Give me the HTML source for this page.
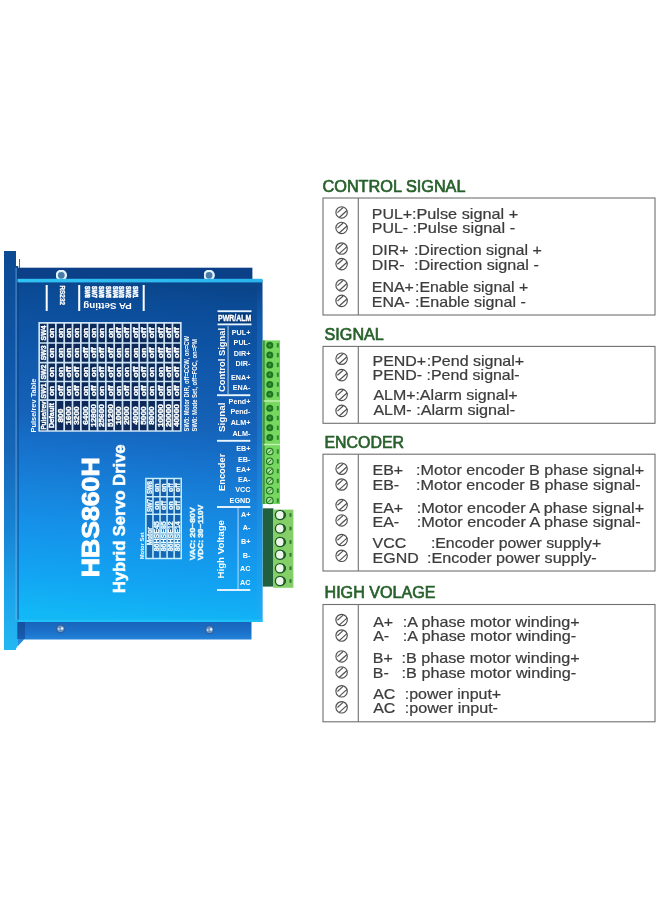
<!DOCTYPE html>
<html><head><meta charset="utf-8"><title>HBS860H</title>
<style>
html,body{margin:0;padding:0;background:#fff;}
body{width:660px;height:900px;overflow:hidden;position:relative;font-family:"Liberation Sans",sans-serif;}
svg{position:absolute;left:0;top:0;display:block;}
text{font-family:"Liberation Sans",sans-serif;}
.h{font-size:16px;fill:#27602a;stroke:#27602a;stroke-width:0.65px;}
.t{font-size:14.5px;fill:#3c3c3c;stroke:#3c3c3c;stroke-width:0.22px;}
.w{fill:#fff;}
.b{font-weight:bold;}
</style></head><body>
<svg width="660" height="900" viewBox="0 0 660 900">
<defs>
<linearGradient id="gFace" x1="0.53" y1="0" x2="0.47" y2="1">
<stop offset="0" stop-color="#0a4489"/>
<stop offset="0.06" stop-color="#0b4b96"/>
<stop offset="0.23" stop-color="#0f57aa"/>
<stop offset="0.41" stop-color="#1562b8"/>
<stop offset="0.52" stop-color="#1672cc"/>
<stop offset="0.64" stop-color="#1784dc"/>
<stop offset="0.73" stop-color="#1590e8"/>
<stop offset="0.88" stop-color="#12a4f2"/>
<stop offset="1" stop-color="#12b8f6"/>
</linearGradient>
<linearGradient id="gEdge" x1="0" y1="0" x2="0" y2="1">
<stop offset="0" stop-color="#1a6cc4" stop-opacity="0"/>
<stop offset="0.15" stop-color="#1a6cc4" stop-opacity="0.5"/>
<stop offset="1" stop-color="#25aaf4" stop-opacity="0.6"/>
</linearGradient>
<linearGradient id="gTop" x1="0" y1="0" x2="1" y2="0">
<stop offset="0" stop-color="#30c2f2"/>
<stop offset="1" stop-color="#2ab4ee"/>
</linearGradient>
<linearGradient id="gFlange" x1="0" y1="0" x2="0" y2="1">
<stop offset="0" stop-color="#0c4a92"/>
<stop offset="0.3" stop-color="#1058aa"/>
<stop offset="0.5" stop-color="#1666b8"/>
<stop offset="0.7" stop-color="#1884d4"/>
<stop offset="0.85" stop-color="#1ca2ea"/>
<stop offset="1" stop-color="#22b8f2"/>
</linearGradient>
<linearGradient id="gBot" x1="0" y1="0" x2="0" y2="1">
<stop offset="0" stop-color="#1862ba"/>
<stop offset="0.5" stop-color="#1c74cc"/>
<stop offset="0.8" stop-color="#2688dc"/>
<stop offset="1" stop-color="#2e98e6"/>
</linearGradient>
<filter id="soft" x="-5%" y="-5%" width="110%" height="110%"><feGaussianBlur stdDeviation="0.45"/></filter>
<filter id="soft3" x="-2%" y="-2%" width="104%" height="104%"><feGaussianBlur stdDeviation="0.28"/></filter>
<filter id="soft2" x="-5%" y="-5%" width="110%" height="110%"><feGaussianBlur stdDeviation="0.3"/></filter>
</defs>

<g id="device">
<rect x="4" y="251" width="12" height="399" fill="url(#gFlange)"/>
<path d="M15.3 266H18.2V645L15.3 650Z" fill="url(#gFlange)"/>
<rect x="15.3" y="268" width="2" height="352" fill="#7ab8ec" opacity="0.4"/>
<rect x="17" y="267.7" width="235.4" height="14" fill="#0b4088"/>
<rect x="19" y="259" width="1" height="9" fill="#3a6aa0"/>
<path d="M16 621H251.5V639.5H24L18 646V621Z" fill="url(#gBot)"/>
<rect x="17" y="621" width="8" height="18" fill="#143f8c" opacity="0.55"/>
<circle cx="61.3" cy="275.3" r="4.6" fill="#4a7aa8" stroke="#e2f2fb" stroke-width="2.4" filter="url(#soft2)"/>
<circle cx="209.1" cy="275.3" r="4.6" fill="#4a7aa8" stroke="#e2f2fb" stroke-width="2.4" filter="url(#soft2)"/>
<rect x="17" y="280" width="245.5" height="342" fill="url(#gFace)"/>
<rect x="17.5" y="278.8" width="245" height="3.6" fill="url(#gTop)"/>
<rect x="17.4" y="282.4" width="1.4" height="339" fill="#08387c" opacity="0.55"/>
<rect x="257" y="281.4" width="5.5" height="340.6" fill="url(#gEdge)"/>
<rect x="17" y="619.5" width="245.5" height="2.5" fill="#22c4f8" opacity="0.7"/>
<circle cx="60.5" cy="628.8" r="4" fill="#6a92c0" stroke="#2a5ea4" stroke-width="1.2"/>
<circle cx="62.1" cy="628.5" r="1.3" fill="#e8f2fa"/>
<circle cx="58.7" cy="629.0" r="1" fill="#c8dcee"/>
<circle cx="209.5" cy="629.7" r="4" fill="#6a92c0" stroke="#2a5ea4" stroke-width="1.2"/>
<circle cx="211.1" cy="629.4000000000001" r="1.3" fill="#e8f2fa"/>
<circle cx="207.7" cy="629.9000000000001" r="1" fill="#c8dcee"/>
<g filter="url(#soft2)">
<rect x="262.6" y="340.4" width="17.4" height="163.6" fill="#76d85e"/>
<rect x="262.6" y="340.4" width="2.2" height="163.6" fill="#3f9a3c"/>
<circle cx="269.8" cy="345.3" r="3.5" fill="#1f7424"/>
<circle cx="269.8" cy="345.3" r="1.4" fill="#3f9a3a"/>
<rect x="276.8" y="343.1" width="2" height="4.4" fill="#2f8a30"/>
<circle cx="269.8" cy="355.1" r="3.5" fill="#1f7424"/>
<circle cx="269.8" cy="355.1" r="1.4" fill="#3f9a3a"/>
<rect x="276.8" y="352.9" width="2" height="4.4" fill="#2f8a30"/>
<circle cx="269.8" cy="364.9" r="3.5" fill="#1f7424"/>
<circle cx="269.8" cy="364.9" r="1.4" fill="#3f9a3a"/>
<rect x="276.8" y="362.7" width="2" height="4.4" fill="#2f8a30"/>
<circle cx="269.8" cy="374.7" r="3.5" fill="#1f7424"/>
<circle cx="269.8" cy="374.7" r="1.4" fill="#3f9a3a"/>
<rect x="276.8" y="372.5" width="2" height="4.4" fill="#2f8a30"/>
<circle cx="269.8" cy="384.5" r="3.5" fill="#1f7424"/>
<circle cx="269.8" cy="384.5" r="1.4" fill="#3f9a3a"/>
<rect x="276.8" y="382.3" width="2" height="4.4" fill="#2f8a30"/>
<circle cx="269.8" cy="394.3" r="3.5" fill="#1f7424"/>
<circle cx="269.8" cy="394.3" r="1.4" fill="#3f9a3a"/>
<rect x="276.8" y="392.1" width="2" height="4.4" fill="#2f8a30"/>
<circle cx="269.8" cy="408.2" r="3.5" fill="#1f7424"/>
<circle cx="269.8" cy="408.2" r="1.4" fill="#3f9a3a"/>
<rect x="276.8" y="406.0" width="2" height="4.4" fill="#2f8a30"/>
<circle cx="269.8" cy="418.0" r="3.5" fill="#1f7424"/>
<circle cx="269.8" cy="418.0" r="1.4" fill="#3f9a3a"/>
<rect x="276.8" y="415.8" width="2" height="4.4" fill="#2f8a30"/>
<circle cx="269.8" cy="427.8" r="3.5" fill="#1f7424"/>
<circle cx="269.8" cy="427.8" r="1.4" fill="#3f9a3a"/>
<rect x="276.8" y="425.6" width="2" height="4.4" fill="#2f8a30"/>
<circle cx="269.8" cy="437.6" r="3.5" fill="#1f7424"/>
<circle cx="269.8" cy="437.6" r="1.4" fill="#3f9a3a"/>
<rect x="276.8" y="435.4" width="2" height="4.4" fill="#2f8a30"/>
<circle cx="269.8" cy="451.5" r="3.3" fill="#a9e296" stroke="#1f7424" stroke-width="1.1"/>
<line x1="268" y1="453.3" x2="271.6" y2="449.7" stroke="#1f7424" stroke-width="1"/>
<rect x="276.8" y="449.3" width="2" height="4.4" fill="#2f8a30"/>
<circle cx="269.8" cy="461.3" r="3.3" fill="#a9e296" stroke="#1f7424" stroke-width="1.1"/>
<line x1="268" y1="463.1" x2="271.6" y2="459.5" stroke="#1f7424" stroke-width="1"/>
<rect x="276.8" y="459.1" width="2" height="4.4" fill="#2f8a30"/>
<circle cx="269.8" cy="471.1" r="3.3" fill="#a9e296" stroke="#1f7424" stroke-width="1.1"/>
<line x1="268" y1="472.9" x2="271.6" y2="469.3" stroke="#1f7424" stroke-width="1"/>
<rect x="276.8" y="468.9" width="2" height="4.4" fill="#2f8a30"/>
<circle cx="269.8" cy="480.9" r="3.3" fill="#a9e296" stroke="#1f7424" stroke-width="1.1"/>
<line x1="268" y1="482.7" x2="271.6" y2="479.1" stroke="#1f7424" stroke-width="1"/>
<rect x="276.8" y="478.7" width="2" height="4.4" fill="#2f8a30"/>
<circle cx="269.8" cy="490.7" r="3.3" fill="#a9e296" stroke="#1f7424" stroke-width="1.1"/>
<line x1="268" y1="492.5" x2="271.6" y2="488.9" stroke="#1f7424" stroke-width="1"/>
<rect x="276.8" y="488.5" width="2" height="4.4" fill="#2f8a30"/>
<circle cx="269.8" cy="500.5" r="3.3" fill="#a9e296" stroke="#1f7424" stroke-width="1.1"/>
<line x1="268" y1="502.3" x2="271.6" y2="498.7" stroke="#1f7424" stroke-width="1"/>
<rect x="276.8" y="498.3" width="2" height="4.4" fill="#2f8a30"/>
<rect x="263.7" y="400.3" width="16.3" height="1.4" fill="#c4f2b4"/>
<rect x="263.7" y="443.8" width="16.3" height="1.4" fill="#c4f2b4"/>
<rect x="262.8" y="508.3" width="10.6" height="78.3" fill="#22603c"/>
<rect x="273.2" y="509.6" width="20.2" height="78.2" fill="#84cf68"/>
<circle cx="280" cy="515" r="4.6" fill="#eef6ea" stroke="#1d5a2a" stroke-width="1.3"/>
<path d="M281.5 510.4A4.6 4.6 0 0 1 281.5 519.6A6 6 0 0 0 281.5 510.4Z" fill="#1d5a2a"/>
<rect x="289.5" y="513.2" width="2" height="3.6" fill="#2d7a30"/>
<circle cx="280" cy="528.5" r="4.6" fill="#eef6ea" stroke="#1d5a2a" stroke-width="1.3"/>
<path d="M281.5 523.9A4.6 4.6 0 0 1 281.5 533.1A6 6 0 0 0 281.5 523.9Z" fill="#1d5a2a"/>
<rect x="289.5" y="526.7" width="2" height="3.6" fill="#2d7a30"/>
<circle cx="280" cy="542" r="4.6" fill="#eef6ea" stroke="#1d5a2a" stroke-width="1.3"/>
<path d="M281.5 537.4A4.6 4.6 0 0 1 281.5 546.6A6 6 0 0 0 281.5 537.4Z" fill="#1d5a2a"/>
<rect x="289.5" y="540.2" width="2" height="3.6" fill="#2d7a30"/>
<circle cx="280" cy="554.8" r="4.6" fill="#eef6ea" stroke="#1d5a2a" stroke-width="1.3"/>
<path d="M281.5 550.1999999999999A4.6 4.6 0 0 1 281.5 559.4A6 6 0 0 0 281.5 550.1999999999999Z" fill="#1d5a2a"/>
<rect x="289.5" y="553.0" width="2" height="3.6" fill="#2d7a30"/>
<circle cx="280" cy="568.2" r="4.6" fill="#eef6ea" stroke="#1d5a2a" stroke-width="1.3"/>
<path d="M281.5 563.6A4.6 4.6 0 0 1 281.5 572.8000000000001A6 6 0 0 0 281.5 563.6Z" fill="#1d5a2a"/>
<rect x="289.5" y="566.4000000000001" width="2" height="3.6" fill="#2d7a30"/>
<circle cx="280" cy="581" r="4.6" fill="#eef6ea" stroke="#1d5a2a" stroke-width="1.3"/>
<path d="M281.5 576.4A4.6 4.6 0 0 1 281.5 585.6A6 6 0 0 0 281.5 576.4Z" fill="#1d5a2a"/>
<rect x="289.5" y="579.2" width="2" height="3.6" fill="#2d7a30"/>
</g>
</g>
<g id="facetext" filter="url(#soft)">
<text class="w b" transform="translate(99,577.3) rotate(-90)" font-size="24.2" textLength="120" lengthAdjust="spacingAndGlyphs" stroke="#fff" stroke-width="0.9">HBS860H</text>
<text class="w b" transform="translate(125,593) rotate(-90)" font-size="16.5" textLength="148.5" lengthAdjust="spacingAndGlyphs" stroke="#f2fdff" stroke-width="0.55" fill="#f2fdff">Hybrid Servo Drive</text>
<rect x="217.5" y="313" width="34" height="10" fill="#0a2f66" opacity="0.6"/>
<rect x="217.5" y="310.3" width="34" height="1.8" fill="#eaf6ff"/>
<rect x="217.5" y="323.5" width="34" height="1.8" fill="#eaf6ff"/>
<text class="w b" x="218" y="320.7" font-size="8.2" textLength="33.2" lengthAdjust="spacingAndGlyphs" stroke="#fff" stroke-width="0.35">PWR/ALM</text>
<text class="w b" x="250.4" y="335.1" font-size="7.2" text-anchor="end">PUL+</text>
<text class="w b" x="250.4" y="345.40000000000003" font-size="7.2" text-anchor="end">PUL-</text>
<text class="w b" x="250.4" y="355.6" font-size="7.2" text-anchor="end">DIR+</text>
<text class="w b" x="250.4" y="365.90000000000003" font-size="7.2" text-anchor="end">DIR-</text>
<text class="w b" x="250.4" y="379.6" font-size="7.2" text-anchor="end">ENA+</text>
<text class="w b" x="250.4" y="389.90000000000003" font-size="7.2" text-anchor="end">ENA-</text>
<text class="w b" x="250.4" y="404.1" font-size="7.2" text-anchor="end">Pend+</text>
<text class="w b" x="250.4" y="414.3" font-size="7.2" text-anchor="end">Pend-</text>
<text class="w b" x="250.4" y="424.6" font-size="7.2" text-anchor="end">ALM+</text>
<text class="w b" x="250.4" y="435.6" font-size="7.2" text-anchor="end">ALM-</text>
<text class="w b" x="250.4" y="451.40000000000003" font-size="7.2" text-anchor="end">EB+</text>
<text class="w b" x="250.4" y="461.8" font-size="7.2" text-anchor="end">EB-</text>
<text class="w b" x="250.4" y="472.0" font-size="7.2" text-anchor="end">EA+</text>
<text class="w b" x="250.4" y="482.20000000000005" font-size="7.2" text-anchor="end">EA-</text>
<text class="w b" x="250.4" y="492.1" font-size="7.2" text-anchor="end">VCC</text>
<text class="w b" x="250.4" y="502.8" font-size="7.2" text-anchor="end">EGND</text>
<text class="w b" x="250.4" y="517.1" font-size="7.2" text-anchor="end">A+</text>
<text class="w b" x="250.4" y="530.4" font-size="7.2" text-anchor="end">A-</text>
<text class="w b" x="250.4" y="544.1" font-size="7.2" text-anchor="end">B+</text>
<text class="w b" x="250.4" y="557.6" font-size="7.2" text-anchor="end">B-</text>
<text class="w b" x="250.4" y="571.4" font-size="7.2" text-anchor="end">AC</text>
<text class="w b" x="250.4" y="585.2" font-size="7.2" text-anchor="end">AC</text>
<rect x="217" y="394.25" width="33.3" height="1.9" fill="#eaf6ff"/>
<rect x="217" y="439.85" width="33.3" height="1.9" fill="#eaf6ff"/>
<rect x="217" y="506.05" width="33.3" height="1.9" fill="#eaf6ff"/>
<rect x="217" y="589.05" width="33.3" height="1.9" fill="#eaf6ff"/>
<rect x="227.6" y="326" width="0.9" height="68" fill="#d8ecfa" opacity="0.9"/>
<rect x="237.6" y="508" width="0.9" height="82" fill="#d8ecfa" opacity="0.9"/>
<text class="w b" transform="translate(224.6,392) rotate(-90)" font-size="9.4" textLength="64" lengthAdjust="spacingAndGlyphs">Control Signal</text>
<text class="w b" transform="translate(224.5,432) rotate(-90)" font-size="9.4" textLength="29.5" lengthAdjust="spacingAndGlyphs">Signal</text>
<text class="w b" transform="translate(224.6,491) rotate(-90)" font-size="9.4" textLength="37.3" lengthAdjust="spacingAndGlyphs">Encoder</text>
<text class="w b" transform="translate(224.4,578.5) rotate(-90)" font-size="9.4" textLength="58.5" lengthAdjust="spacingAndGlyphs">High Voltage</text>
</g>
<g id="ptable" filter="url(#soft)">
<rect x="39.2" y="322.8" width="141.60" height="108.19999999999999" fill="#08264f" opacity="0.9"/>
<path d="M39.20 322.8V431 M47.53 322.8V431 M55.86 322.8V431 M64.19 322.8V431 M72.52 322.8V431 M80.85 322.8V431 M89.18 322.8V431 M97.51 322.8V431 M105.84 322.8V431 M114.16 322.8V431 M122.49 322.8V431 M130.82 322.8V431 M139.15 322.8V431 M147.48 322.8V431 M155.81 322.8V431 M164.14 322.8V431 M172.47 322.8V431 M180.80 322.8V431 M39.2 322.8H180.80 M39.2 343H180.80 M39.2 362.6H180.80 M39.2 381.5H180.80 M39.2 400.2H180.80 M39.2 431H180.80" stroke="#cfe5f7" stroke-width="1.7" fill="none" stroke-linecap="square"/>
<text class="w b" transform="translate(45.96,429.6) rotate(-90)" font-size="7.8" textLength="28" lengthAdjust="spacingAndGlyphs" stroke="#fff" stroke-width="0.4">Pulse/rev</text>
<text class="w b" transform="translate(45.96,398.4) rotate(-90)" font-size="7.8" textLength="15" lengthAdjust="spacingAndGlyphs" stroke="#fff" stroke-width="0.4">SW1</text>
<text class="w b" transform="translate(45.96,379.6) rotate(-90)" font-size="7.8" textLength="15" lengthAdjust="spacingAndGlyphs" stroke="#fff" stroke-width="0.4">SW2</text>
<text class="w b" transform="translate(45.96,360.3) rotate(-90)" font-size="7.8" textLength="15" lengthAdjust="spacingAndGlyphs" stroke="#fff" stroke-width="0.4">SW3</text>
<text class="w b" transform="translate(45.96,340.4) rotate(-90)" font-size="7.8" textLength="15" lengthAdjust="spacingAndGlyphs" stroke="#fff" stroke-width="0.4">SW4</text>
<text class="w b" transform="translate(54.29,428.1) rotate(-90)" font-size="7.8" textLength="25" lengthAdjust="spacingAndGlyphs" stroke="#fff" stroke-width="0.4">Default</text>
<text class="w b" transform="translate(54.29,396.0) rotate(-90)" font-size="7.8" textLength="10.2" lengthAdjust="spacingAndGlyphs" stroke="#fff" stroke-width="0.4">on</text>
<text class="w b" transform="translate(54.29,377.2) rotate(-90)" font-size="7.8" textLength="10.2" lengthAdjust="spacingAndGlyphs" stroke="#fff" stroke-width="0.4">on</text>
<text class="w b" transform="translate(54.29,357.9) rotate(-90)" font-size="7.8" textLength="10.2" lengthAdjust="spacingAndGlyphs" stroke="#fff" stroke-width="0.4">on</text>
<text class="w b" transform="translate(54.29,338.0) rotate(-90)" font-size="7.8" textLength="10.2" lengthAdjust="spacingAndGlyphs" stroke="#fff" stroke-width="0.4">on</text>
<text class="w b" transform="translate(62.62,422.5) rotate(-90)" font-size="7.8" textLength="13.799999999999999" lengthAdjust="spacingAndGlyphs" stroke="#fff" stroke-width="0.4">800</text>
<text class="w b" transform="translate(62.62,396.2) rotate(-90)" font-size="7.8" textLength="10.8" lengthAdjust="spacingAndGlyphs" stroke="#fff" stroke-width="0.4">off</text>
<text class="w b" transform="translate(62.62,377.2) rotate(-90)" font-size="7.8" textLength="10.2" lengthAdjust="spacingAndGlyphs" stroke="#fff" stroke-width="0.4">on</text>
<text class="w b" transform="translate(62.62,357.9) rotate(-90)" font-size="7.8" textLength="10.2" lengthAdjust="spacingAndGlyphs" stroke="#fff" stroke-width="0.4">on</text>
<text class="w b" transform="translate(62.62,338.0) rotate(-90)" font-size="7.8" textLength="10.2" lengthAdjust="spacingAndGlyphs" stroke="#fff" stroke-width="0.4">on</text>
<text class="w b" transform="translate(70.95,424.8) rotate(-90)" font-size="7.8" textLength="18.4" lengthAdjust="spacingAndGlyphs" stroke="#fff" stroke-width="0.4">1600</text>
<text class="w b" transform="translate(70.95,396.0) rotate(-90)" font-size="7.8" textLength="10.2" lengthAdjust="spacingAndGlyphs" stroke="#fff" stroke-width="0.4">on</text>
<text class="w b" transform="translate(70.95,377.4) rotate(-90)" font-size="7.8" textLength="10.8" lengthAdjust="spacingAndGlyphs" stroke="#fff" stroke-width="0.4">off</text>
<text class="w b" transform="translate(70.95,357.9) rotate(-90)" font-size="7.8" textLength="10.2" lengthAdjust="spacingAndGlyphs" stroke="#fff" stroke-width="0.4">on</text>
<text class="w b" transform="translate(70.95,338.0) rotate(-90)" font-size="7.8" textLength="10.2" lengthAdjust="spacingAndGlyphs" stroke="#fff" stroke-width="0.4">on</text>
<text class="w b" transform="translate(79.28,424.8) rotate(-90)" font-size="7.8" textLength="18.4" lengthAdjust="spacingAndGlyphs" stroke="#fff" stroke-width="0.4">3200</text>
<text class="w b" transform="translate(79.28,396.2) rotate(-90)" font-size="7.8" textLength="10.8" lengthAdjust="spacingAndGlyphs" stroke="#fff" stroke-width="0.4">off</text>
<text class="w b" transform="translate(79.28,377.4) rotate(-90)" font-size="7.8" textLength="10.8" lengthAdjust="spacingAndGlyphs" stroke="#fff" stroke-width="0.4">off</text>
<text class="w b" transform="translate(79.28,357.9) rotate(-90)" font-size="7.8" textLength="10.2" lengthAdjust="spacingAndGlyphs" stroke="#fff" stroke-width="0.4">on</text>
<text class="w b" transform="translate(79.28,338.0) rotate(-90)" font-size="7.8" textLength="10.2" lengthAdjust="spacingAndGlyphs" stroke="#fff" stroke-width="0.4">on</text>
<text class="w b" transform="translate(87.61,424.8) rotate(-90)" font-size="7.8" textLength="18.4" lengthAdjust="spacingAndGlyphs" stroke="#fff" stroke-width="0.4">6400</text>
<text class="w b" transform="translate(87.61,396.0) rotate(-90)" font-size="7.8" textLength="10.2" lengthAdjust="spacingAndGlyphs" stroke="#fff" stroke-width="0.4">on</text>
<text class="w b" transform="translate(87.61,377.2) rotate(-90)" font-size="7.8" textLength="10.2" lengthAdjust="spacingAndGlyphs" stroke="#fff" stroke-width="0.4">on</text>
<text class="w b" transform="translate(87.61,358.2) rotate(-90)" font-size="7.8" textLength="10.8" lengthAdjust="spacingAndGlyphs" stroke="#fff" stroke-width="0.4">off</text>
<text class="w b" transform="translate(87.61,338.0) rotate(-90)" font-size="7.8" textLength="10.2" lengthAdjust="spacingAndGlyphs" stroke="#fff" stroke-width="0.4">on</text>
<text class="w b" transform="translate(95.94,427.1) rotate(-90)" font-size="7.8" textLength="23.0" lengthAdjust="spacingAndGlyphs" stroke="#fff" stroke-width="0.4">12800</text>
<text class="w b" transform="translate(95.94,396.2) rotate(-90)" font-size="7.8" textLength="10.8" lengthAdjust="spacingAndGlyphs" stroke="#fff" stroke-width="0.4">off</text>
<text class="w b" transform="translate(95.94,377.2) rotate(-90)" font-size="7.8" textLength="10.2" lengthAdjust="spacingAndGlyphs" stroke="#fff" stroke-width="0.4">on</text>
<text class="w b" transform="translate(95.94,358.2) rotate(-90)" font-size="7.8" textLength="10.8" lengthAdjust="spacingAndGlyphs" stroke="#fff" stroke-width="0.4">off</text>
<text class="w b" transform="translate(95.94,338.0) rotate(-90)" font-size="7.8" textLength="10.2" lengthAdjust="spacingAndGlyphs" stroke="#fff" stroke-width="0.4">on</text>
<text class="w b" transform="translate(104.27,427.1) rotate(-90)" font-size="7.8" textLength="23.0" lengthAdjust="spacingAndGlyphs" stroke="#fff" stroke-width="0.4">25600</text>
<text class="w b" transform="translate(104.27,396.0) rotate(-90)" font-size="7.8" textLength="10.2" lengthAdjust="spacingAndGlyphs" stroke="#fff" stroke-width="0.4">on</text>
<text class="w b" transform="translate(104.27,377.4) rotate(-90)" font-size="7.8" textLength="10.8" lengthAdjust="spacingAndGlyphs" stroke="#fff" stroke-width="0.4">off</text>
<text class="w b" transform="translate(104.27,358.2) rotate(-90)" font-size="7.8" textLength="10.8" lengthAdjust="spacingAndGlyphs" stroke="#fff" stroke-width="0.4">off</text>
<text class="w b" transform="translate(104.27,338.0) rotate(-90)" font-size="7.8" textLength="10.2" lengthAdjust="spacingAndGlyphs" stroke="#fff" stroke-width="0.4">on</text>
<text class="w b" transform="translate(112.60,427.1) rotate(-90)" font-size="7.8" textLength="23.0" lengthAdjust="spacingAndGlyphs" stroke="#fff" stroke-width="0.4">51200</text>
<text class="w b" transform="translate(112.60,396.2) rotate(-90)" font-size="7.8" textLength="10.8" lengthAdjust="spacingAndGlyphs" stroke="#fff" stroke-width="0.4">off</text>
<text class="w b" transform="translate(112.60,377.4) rotate(-90)" font-size="7.8" textLength="10.8" lengthAdjust="spacingAndGlyphs" stroke="#fff" stroke-width="0.4">off</text>
<text class="w b" transform="translate(112.60,358.2) rotate(-90)" font-size="7.8" textLength="10.8" lengthAdjust="spacingAndGlyphs" stroke="#fff" stroke-width="0.4">off</text>
<text class="w b" transform="translate(112.60,338.0) rotate(-90)" font-size="7.8" textLength="10.2" lengthAdjust="spacingAndGlyphs" stroke="#fff" stroke-width="0.4">on</text>
<text class="w b" transform="translate(120.93,424.8) rotate(-90)" font-size="7.8" textLength="18.4" lengthAdjust="spacingAndGlyphs" stroke="#fff" stroke-width="0.4">1000</text>
<text class="w b" transform="translate(120.93,396.0) rotate(-90)" font-size="7.8" textLength="10.2" lengthAdjust="spacingAndGlyphs" stroke="#fff" stroke-width="0.4">on</text>
<text class="w b" transform="translate(120.93,377.2) rotate(-90)" font-size="7.8" textLength="10.2" lengthAdjust="spacingAndGlyphs" stroke="#fff" stroke-width="0.4">on</text>
<text class="w b" transform="translate(120.93,357.9) rotate(-90)" font-size="7.8" textLength="10.2" lengthAdjust="spacingAndGlyphs" stroke="#fff" stroke-width="0.4">on</text>
<text class="w b" transform="translate(120.93,338.3) rotate(-90)" font-size="7.8" textLength="10.8" lengthAdjust="spacingAndGlyphs" stroke="#fff" stroke-width="0.4">off</text>
<text class="w b" transform="translate(129.26,424.8) rotate(-90)" font-size="7.8" textLength="18.4" lengthAdjust="spacingAndGlyphs" stroke="#fff" stroke-width="0.4">2000</text>
<text class="w b" transform="translate(129.26,396.2) rotate(-90)" font-size="7.8" textLength="10.8" lengthAdjust="spacingAndGlyphs" stroke="#fff" stroke-width="0.4">off</text>
<text class="w b" transform="translate(129.26,377.2) rotate(-90)" font-size="7.8" textLength="10.2" lengthAdjust="spacingAndGlyphs" stroke="#fff" stroke-width="0.4">on</text>
<text class="w b" transform="translate(129.26,357.9) rotate(-90)" font-size="7.8" textLength="10.2" lengthAdjust="spacingAndGlyphs" stroke="#fff" stroke-width="0.4">on</text>
<text class="w b" transform="translate(129.26,338.3) rotate(-90)" font-size="7.8" textLength="10.8" lengthAdjust="spacingAndGlyphs" stroke="#fff" stroke-width="0.4">off</text>
<text class="w b" transform="translate(137.59,424.8) rotate(-90)" font-size="7.8" textLength="18.4" lengthAdjust="spacingAndGlyphs" stroke="#fff" stroke-width="0.4">4000</text>
<text class="w b" transform="translate(137.59,396.0) rotate(-90)" font-size="7.8" textLength="10.2" lengthAdjust="spacingAndGlyphs" stroke="#fff" stroke-width="0.4">on</text>
<text class="w b" transform="translate(137.59,377.4) rotate(-90)" font-size="7.8" textLength="10.8" lengthAdjust="spacingAndGlyphs" stroke="#fff" stroke-width="0.4">off</text>
<text class="w b" transform="translate(137.59,357.9) rotate(-90)" font-size="7.8" textLength="10.2" lengthAdjust="spacingAndGlyphs" stroke="#fff" stroke-width="0.4">on</text>
<text class="w b" transform="translate(137.59,338.3) rotate(-90)" font-size="7.8" textLength="10.8" lengthAdjust="spacingAndGlyphs" stroke="#fff" stroke-width="0.4">off</text>
<text class="w b" transform="translate(145.92,424.8) rotate(-90)" font-size="7.8" textLength="18.4" lengthAdjust="spacingAndGlyphs" stroke="#fff" stroke-width="0.4">5000</text>
<text class="w b" transform="translate(145.92,396.2) rotate(-90)" font-size="7.8" textLength="10.8" lengthAdjust="spacingAndGlyphs" stroke="#fff" stroke-width="0.4">off</text>
<text class="w b" transform="translate(145.92,377.4) rotate(-90)" font-size="7.8" textLength="10.8" lengthAdjust="spacingAndGlyphs" stroke="#fff" stroke-width="0.4">off</text>
<text class="w b" transform="translate(145.92,357.9) rotate(-90)" font-size="7.8" textLength="10.2" lengthAdjust="spacingAndGlyphs" stroke="#fff" stroke-width="0.4">on</text>
<text class="w b" transform="translate(145.92,338.3) rotate(-90)" font-size="7.8" textLength="10.8" lengthAdjust="spacingAndGlyphs" stroke="#fff" stroke-width="0.4">off</text>
<text class="w b" transform="translate(154.25,424.8) rotate(-90)" font-size="7.8" textLength="18.4" lengthAdjust="spacingAndGlyphs" stroke="#fff" stroke-width="0.4">8000</text>
<text class="w b" transform="translate(154.25,396.0) rotate(-90)" font-size="7.8" textLength="10.2" lengthAdjust="spacingAndGlyphs" stroke="#fff" stroke-width="0.4">on</text>
<text class="w b" transform="translate(154.25,377.2) rotate(-90)" font-size="7.8" textLength="10.2" lengthAdjust="spacingAndGlyphs" stroke="#fff" stroke-width="0.4">on</text>
<text class="w b" transform="translate(154.25,358.2) rotate(-90)" font-size="7.8" textLength="10.8" lengthAdjust="spacingAndGlyphs" stroke="#fff" stroke-width="0.4">off</text>
<text class="w b" transform="translate(154.25,338.3) rotate(-90)" font-size="7.8" textLength="10.8" lengthAdjust="spacingAndGlyphs" stroke="#fff" stroke-width="0.4">off</text>
<text class="w b" transform="translate(162.58,427.1) rotate(-90)" font-size="7.8" textLength="23.0" lengthAdjust="spacingAndGlyphs" stroke="#fff" stroke-width="0.4">10000</text>
<text class="w b" transform="translate(162.58,396.2) rotate(-90)" font-size="7.8" textLength="10.8" lengthAdjust="spacingAndGlyphs" stroke="#fff" stroke-width="0.4">off</text>
<text class="w b" transform="translate(162.58,377.2) rotate(-90)" font-size="7.8" textLength="10.2" lengthAdjust="spacingAndGlyphs" stroke="#fff" stroke-width="0.4">on</text>
<text class="w b" transform="translate(162.58,358.2) rotate(-90)" font-size="7.8" textLength="10.8" lengthAdjust="spacingAndGlyphs" stroke="#fff" stroke-width="0.4">off</text>
<text class="w b" transform="translate(162.58,338.3) rotate(-90)" font-size="7.8" textLength="10.8" lengthAdjust="spacingAndGlyphs" stroke="#fff" stroke-width="0.4">off</text>
<text class="w b" transform="translate(170.91,427.1) rotate(-90)" font-size="7.8" textLength="23.0" lengthAdjust="spacingAndGlyphs" stroke="#fff" stroke-width="0.4">20000</text>
<text class="w b" transform="translate(170.91,396.0) rotate(-90)" font-size="7.8" textLength="10.2" lengthAdjust="spacingAndGlyphs" stroke="#fff" stroke-width="0.4">on</text>
<text class="w b" transform="translate(170.91,377.4) rotate(-90)" font-size="7.8" textLength="10.8" lengthAdjust="spacingAndGlyphs" stroke="#fff" stroke-width="0.4">off</text>
<text class="w b" transform="translate(170.91,358.2) rotate(-90)" font-size="7.8" textLength="10.8" lengthAdjust="spacingAndGlyphs" stroke="#fff" stroke-width="0.4">off</text>
<text class="w b" transform="translate(170.91,338.3) rotate(-90)" font-size="7.8" textLength="10.8" lengthAdjust="spacingAndGlyphs" stroke="#fff" stroke-width="0.4">off</text>
<text class="w b" transform="translate(179.24,427.1) rotate(-90)" font-size="7.8" textLength="23.0" lengthAdjust="spacingAndGlyphs" stroke="#fff" stroke-width="0.4">40000</text>
<text class="w b" transform="translate(179.24,396.2) rotate(-90)" font-size="7.8" textLength="10.8" lengthAdjust="spacingAndGlyphs" stroke="#fff" stroke-width="0.4">off</text>
<text class="w b" transform="translate(179.24,377.4) rotate(-90)" font-size="7.8" textLength="10.8" lengthAdjust="spacingAndGlyphs" stroke="#fff" stroke-width="0.4">off</text>
<text class="w b" transform="translate(179.24,358.2) rotate(-90)" font-size="7.8" textLength="10.8" lengthAdjust="spacingAndGlyphs" stroke="#fff" stroke-width="0.4">off</text>
<text class="w b" transform="translate(179.24,338.3) rotate(-90)" font-size="7.8" textLength="10.8" lengthAdjust="spacingAndGlyphs" stroke="#fff" stroke-width="0.4">off</text>
<text class="w b" transform="translate(36.2,432.5) rotate(-90)" font-size="7.3" textLength="54" lengthAdjust="spacingAndGlyphs">Pulse/rev Table</text>
</g>
<g id="pa" filter="url(#soft)">
<rect x="45.7" y="285" width="2" height="26" fill="#fff"/>
<rect x="78.2" y="285" width="2" height="26" fill="#fff"/>
<rect x="142.7" y="285" width="2" height="26" fill="#fff"/>
<text class="w b" transform="translate(131.8,303.4) rotate(180)" font-size="9" textLength="48.5" lengthAdjust="spacingAndGlyphs">PA Setting</text>
<text class="w b" transform="translate(60,285.5) rotate(90)" font-size="6.8" textLength="19.5" lengthAdjust="spacingAndGlyphs" stroke="#fff" stroke-width="0.3">RS232</text>
<text class="w b" transform="translate(133.2,286) rotate(90)" font-size="6.4" textLength="11.8" lengthAdjust="spacingAndGlyphs" stroke="#fff" stroke-width="0.55">SW1</text>
<text class="w b" transform="translate(126.3,286) rotate(90)" font-size="6.4" textLength="11.8" lengthAdjust="spacingAndGlyphs" stroke="#fff" stroke-width="0.55">SW2</text>
<text class="w b" transform="translate(119.4,286) rotate(90)" font-size="6.4" textLength="11.8" lengthAdjust="spacingAndGlyphs" stroke="#fff" stroke-width="0.55">SW3</text>
<text class="w b" transform="translate(112.5,286) rotate(90)" font-size="6.4" textLength="11.8" lengthAdjust="spacingAndGlyphs" stroke="#fff" stroke-width="0.55">SW4</text>
<text class="w b" transform="translate(105.6,286) rotate(90)" font-size="6.4" textLength="11.8" lengthAdjust="spacingAndGlyphs" stroke="#fff" stroke-width="0.55">SW5</text>
<text class="w b" transform="translate(98.7,286) rotate(90)" font-size="6.4" textLength="11.8" lengthAdjust="spacingAndGlyphs" stroke="#fff" stroke-width="0.55">SW6</text>
<text class="w b" transform="translate(91.8,286) rotate(90)" font-size="6.4" textLength="11.8" lengthAdjust="spacingAndGlyphs" stroke="#fff" stroke-width="0.55">SW7</text>
<text class="w b" transform="translate(84.9,286) rotate(90)" font-size="6.4" textLength="11.8" lengthAdjust="spacingAndGlyphs" stroke="#fff" stroke-width="0.55">SW8</text>
</g>
<g id="mtable" filter="url(#soft)">
<rect x="145.9" y="478.5" width="35.30" height="79.90" fill="#0d4488" opacity="0.55"/>
<path d="M145.90 478.5V558.4 M152.96 478.5V558.4 M160.02 478.5V558.4 M167.08 478.5V558.4 M174.14 478.5V558.4 M181.20 478.5V558.4 M145.9 478.5H181.2 M145.9 496.7H181.2 M145.9 514.2H181.2 M145.9 558.4H181.2" stroke="#c8f0fb" stroke-width="1.5" fill="none" stroke-linecap="square"/>
<text class="w b" transform="translate(151.53,545.3) rotate(-90)" font-size="6.4" textLength="18" lengthAdjust="spacingAndGlyphs" fill="#e4f8ff" stroke="#e4f8ff" stroke-width="0.35">Motor</text>
<text class="w b" transform="translate(151.53,512.0) rotate(-90)" font-size="6.4" textLength="13" lengthAdjust="spacingAndGlyphs" fill="#e4f8ff" stroke="#e4f8ff" stroke-width="0.35">SW7</text>
<text class="w b" transform="translate(151.53,494.1) rotate(-90)" font-size="6.4" textLength="13" lengthAdjust="spacingAndGlyphs" fill="#e4f8ff" stroke="#e4f8ff" stroke-width="0.35">SW8</text>
<text class="w b" transform="translate(158.59,551.3) rotate(-90)" font-size="6.4" textLength="30" lengthAdjust="spacingAndGlyphs" fill="#e4f8ff" stroke="#e4f8ff" stroke-width="0.35">86HSE45</text>
<text class="w b" transform="translate(158.59,509.7) rotate(-90)" font-size="6.4" textLength="8.5" lengthAdjust="spacingAndGlyphs" fill="#e4f8ff" stroke="#e4f8ff" stroke-width="0.35">on</text>
<text class="w b" transform="translate(158.59,491.9) rotate(-90)" font-size="6.4" textLength="8.5" lengthAdjust="spacingAndGlyphs" fill="#e4f8ff" stroke="#e4f8ff" stroke-width="0.35">on</text>
<text class="w b" transform="translate(165.65,551.3) rotate(-90)" font-size="6.4" textLength="30" lengthAdjust="spacingAndGlyphs" fill="#e4f8ff" stroke="#e4f8ff" stroke-width="0.35">86HSE85</text>
<text class="w b" transform="translate(165.65,510.0) rotate(-90)" font-size="6.4" textLength="9" lengthAdjust="spacingAndGlyphs" fill="#e4f8ff" stroke="#e4f8ff" stroke-width="0.35">off</text>
<text class="w b" transform="translate(165.65,491.9) rotate(-90)" font-size="6.4" textLength="8.5" lengthAdjust="spacingAndGlyphs" fill="#e4f8ff" stroke="#e4f8ff" stroke-width="0.35">on</text>
<text class="w b" transform="translate(172.71,551.3) rotate(-90)" font-size="6.4" textLength="30" lengthAdjust="spacingAndGlyphs" fill="#e4f8ff" stroke="#e4f8ff" stroke-width="0.35">86HSE12</text>
<text class="w b" transform="translate(172.71,509.7) rotate(-90)" font-size="6.4" textLength="8.5" lengthAdjust="spacingAndGlyphs" fill="#e4f8ff" stroke="#e4f8ff" stroke-width="0.35">on</text>
<text class="w b" transform="translate(172.71,492.1) rotate(-90)" font-size="6.4" textLength="9" lengthAdjust="spacingAndGlyphs" fill="#e4f8ff" stroke="#e4f8ff" stroke-width="0.35">off</text>
<text class="w b" transform="translate(179.77,551.3) rotate(-90)" font-size="6.4" textLength="30" lengthAdjust="spacingAndGlyphs" fill="#e4f8ff" stroke="#e4f8ff" stroke-width="0.35">86HSE14</text>
<text class="w b" transform="translate(179.77,510.0) rotate(-90)" font-size="6.4" textLength="9" lengthAdjust="spacingAndGlyphs" fill="#e4f8ff" stroke="#e4f8ff" stroke-width="0.35">off</text>
<text class="w b" transform="translate(179.77,492.1) rotate(-90)" font-size="6.4" textLength="9" lengthAdjust="spacingAndGlyphs" fill="#e4f8ff" stroke="#e4f8ff" stroke-width="0.35">off</text>
<text class="w b" transform="translate(144.3,559.3) rotate(-90)" font-size="5.6" textLength="27" lengthAdjust="spacingAndGlyphs">Motor Set</text>
</g>
<g id="misc" filter="url(#soft)">
<text class="w b" transform="translate(195.3,560.3) rotate(-90)" font-size="7.8" textLength="53" lengthAdjust="spacingAndGlyphs" fill="#d8f4fe" stroke="#d8f4fe" stroke-width="0.5">VAC: 20~80V</text>
<text class="w b" transform="translate(202.7,560.3) rotate(-90)" font-size="7.8" textLength="55.5" lengthAdjust="spacingAndGlyphs" fill="#d8f4fe" stroke="#d8f4fe" stroke-width="0.5">VDC: 30~110V</text>
<text class="w b" transform="translate(188.6,431.5) rotate(-90)" font-size="6.4" textLength="95.5" lengthAdjust="spacingAndGlyphs">SW5: Motor DIR, off=CCW, on=CW</text>
<text class="w b" transform="translate(196.6,431.5) rotate(-90)" font-size="6.4" textLength="92.5" lengthAdjust="spacingAndGlyphs">SW6: Mode Set, off=FOC, on=PM</text>
</g>
<g id="panel" filter="url(#soft3)">
<text class="h" x="322.5" y="192" textLength="143" lengthAdjust="spacingAndGlyphs">CONTROL SIGNAL</text>
<rect x="323" y="198" width="332" height="117" fill="none" stroke="#707070" stroke-width="1.1"/>
<line x1="358.3" y1="198" x2="358.3" y2="315" stroke="#707070" stroke-width="1.1"/>
<g stroke="#505050" stroke-width="1.15" fill="none"><circle cx="341.6" cy="212.4" r="5.7"/><line x1="337.40000000000003" y1="212.6" x2="343.1" y2="207.5"/><line x1="339.20000000000005" y1="217.5" x2="347.0" y2="210.5"/></g>
<g stroke="#505050" stroke-width="1.15" fill="none"><circle cx="341.6" cy="227.9" r="5.7"/><line x1="337.40000000000003" y1="228.1" x2="343.1" y2="223.0"/><line x1="339.20000000000005" y1="233.0" x2="347.0" y2="226.0"/></g>
<g stroke="#505050" stroke-width="1.15" fill="none"><circle cx="341.6" cy="248.5" r="5.7"/><line x1="337.40000000000003" y1="248.7" x2="343.1" y2="243.6"/><line x1="339.20000000000005" y1="253.6" x2="347.0" y2="246.6"/></g>
<g stroke="#505050" stroke-width="1.15" fill="none"><circle cx="341.6" cy="264.1" r="5.7"/><line x1="337.40000000000003" y1="264.3" x2="343.1" y2="259.2"/><line x1="339.20000000000005" y1="269.2" x2="347.0" y2="262.2"/></g>
<g stroke="#505050" stroke-width="1.15" fill="none"><circle cx="341.6" cy="285.4" r="5.7"/><line x1="337.40000000000003" y1="285.6" x2="343.1" y2="280.5"/><line x1="339.20000000000005" y1="290.5" x2="347.0" y2="283.5"/></g>
<g stroke="#505050" stroke-width="1.15" fill="none"><circle cx="341.6" cy="300.9" r="5.7"/><line x1="337.40000000000003" y1="301.1" x2="343.1" y2="296.0"/><line x1="339.20000000000005" y1="306.0" x2="347.0" y2="299.0"/></g>
<text class="t" x="371.8" y="219" transform="translate(371.8,0) scale(1.1,1) translate(-371.8,0)">PUL+</text>
<text class="t" x="411.9" y="219" textLength="106.3" lengthAdjust="spacingAndGlyphs">:Pulse signal +</text>
<text class="t" x="371.8" y="233" transform="translate(371.8,0) scale(1.1,1) translate(-371.8,0)">PUL-</text>
<text class="t" x="412.4" y="233" textLength="102.7" lengthAdjust="spacingAndGlyphs">:Pulse signal -</text>
<text class="t" x="371.8" y="255.2" transform="translate(371.8,0) scale(1.1,1) translate(-371.8,0)">DIR+</text>
<text class="t" x="413.9" y="255.2" textLength="127.9" lengthAdjust="spacingAndGlyphs">:Direction signal +</text>
<text class="t" x="371.8" y="270.3" transform="translate(371.8,0) scale(1.1,1) translate(-371.8,0)">DIR-</text>
<text class="t" x="413.9" y="270.3" textLength="124.9" lengthAdjust="spacingAndGlyphs">:Direction signal -</text>
<text class="t" x="371.8" y="292.2" transform="translate(371.8,0) scale(1.1,1) translate(-371.8,0)">ENA+</text>
<text class="t" x="415.1" y="292.2" textLength="113.1" lengthAdjust="spacingAndGlyphs">:Enable signal +</text>
<text class="t" x="371.8" y="306.7" transform="translate(371.8,0) scale(1.1,1) translate(-371.8,0)">ENA-</text>
<text class="t" x="415.1" y="306.7" textLength="110.7" lengthAdjust="spacingAndGlyphs">:Enable signal -</text>
<text class="h" x="324.6" y="340.1" textLength="59.2" lengthAdjust="spacingAndGlyphs">SIGNAL</text>
<rect x="323" y="346.4" width="332" height="76.90000000000003" fill="none" stroke="#707070" stroke-width="1.1"/>
<line x1="358.3" y1="346.4" x2="358.3" y2="423.3" stroke="#707070" stroke-width="1.1"/>
<g stroke="#505050" stroke-width="1.15" fill="none"><circle cx="341.6" cy="358.7" r="5.7"/><line x1="337.40000000000003" y1="358.9" x2="343.1" y2="353.8"/><line x1="339.20000000000005" y1="363.8" x2="347.0" y2="356.8"/></g>
<g stroke="#505050" stroke-width="1.15" fill="none"><circle cx="341.6" cy="375.1" r="5.7"/><line x1="337.40000000000003" y1="375.3" x2="343.1" y2="370.2"/><line x1="339.20000000000005" y1="380.2" x2="347.0" y2="373.2"/></g>
<g stroke="#505050" stroke-width="1.15" fill="none"><circle cx="341.6" cy="394.9" r="5.7"/><line x1="337.40000000000003" y1="395.1" x2="343.1" y2="390.0"/><line x1="339.20000000000005" y1="400.0" x2="347.0" y2="393.0"/></g>
<g stroke="#505050" stroke-width="1.15" fill="none"><circle cx="341.6" cy="410.9" r="5.7"/><line x1="337.40000000000003" y1="411.1" x2="343.1" y2="406.0"/><line x1="339.20000000000005" y1="416.0" x2="347.0" y2="409.0"/></g>
<text class="t" x="372.5" y="366" transform="translate(372.5,0) scale(1.1,1) translate(-372.5,0)">PEND+</text>
<text class="t" x="426.7" y="366" textLength="97.5" lengthAdjust="spacingAndGlyphs">:Pend signal+</text>
<text class="t" x="372.5" y="380.3" transform="translate(372.5,0) scale(1.1,1) translate(-372.5,0)">PEND-</text>
<text class="t" x="426.5" y="380.3" textLength="93.1" lengthAdjust="spacingAndGlyphs">:Pend signal-</text>
<text class="t" x="373.5" y="399.6" transform="translate(373.5,0) scale(1.1,1) translate(-373.5,0)">ALM+</text>
<text class="t" x="415.4" y="399.6" textLength="102.2" lengthAdjust="spacingAndGlyphs">:Alarm signal+</text>
<text class="t" x="373.5" y="415.2" transform="translate(373.5,0) scale(1.1,1) translate(-373.5,0)">ALM-</text>
<text class="t" x="416.2" y="415.2" textLength="98.9" lengthAdjust="spacingAndGlyphs">:Alarm signal-</text>
<text class="h" x="324.5" y="448.2" textLength="79.5" lengthAdjust="spacingAndGlyphs">ENCODER</text>
<rect x="323" y="454.2" width="332" height="116.80000000000001" fill="none" stroke="#707070" stroke-width="1.1"/>
<line x1="358.3" y1="454.2" x2="358.3" y2="571" stroke="#707070" stroke-width="1.1"/>
<g stroke="#505050" stroke-width="1.15" fill="none"><circle cx="341.6" cy="468.7" r="5.7"/><line x1="337.40000000000003" y1="468.9" x2="343.1" y2="463.8"/><line x1="339.20000000000005" y1="473.8" x2="347.0" y2="466.8"/></g>
<g stroke="#505050" stroke-width="1.15" fill="none"><circle cx="341.6" cy="484.5" r="5.7"/><line x1="337.40000000000003" y1="484.7" x2="343.1" y2="479.6"/><line x1="339.20000000000005" y1="489.6" x2="347.0" y2="482.6"/></g>
<g stroke="#505050" stroke-width="1.15" fill="none"><circle cx="341.6" cy="505.1" r="5.7"/><line x1="337.40000000000003" y1="505.3" x2="343.1" y2="500.2"/><line x1="339.20000000000005" y1="510.2" x2="347.0" y2="503.2"/></g>
<g stroke="#505050" stroke-width="1.15" fill="none"><circle cx="341.6" cy="520.4" r="5.7"/><line x1="337.40000000000003" y1="520.6" x2="343.1" y2="515.5"/><line x1="339.20000000000005" y1="525.5" x2="347.0" y2="518.5"/></g>
<g stroke="#505050" stroke-width="1.15" fill="none"><circle cx="341.6" cy="540" r="5.7"/><line x1="337.40000000000003" y1="540.2" x2="343.1" y2="535.1"/><line x1="339.20000000000005" y1="545.1" x2="347.0" y2="538.1"/></g>
<g stroke="#505050" stroke-width="1.15" fill="none"><circle cx="341.6" cy="555.8" r="5.7"/><line x1="337.40000000000003" y1="556.0" x2="343.1" y2="550.9"/><line x1="339.20000000000005" y1="560.9" x2="347.0" y2="553.9"/></g>
<text class="t" x="372.6" y="475" transform="translate(372.6,0) scale(1.1,1) translate(-372.6,0)">EB+</text>
<text class="t" x="416.1" y="475" textLength="228.1" lengthAdjust="spacingAndGlyphs">:Motor encoder B phase signal+</text>
<text class="t" x="372.6" y="490.4" transform="translate(372.6,0) scale(1.1,1) translate(-372.6,0)">EB-</text>
<text class="t" x="416.1" y="490.4" textLength="224.5" lengthAdjust="spacingAndGlyphs">:Motor encoder B phase signal-</text>
<text class="t" x="372.6" y="513" transform="translate(372.6,0) scale(1.1,1) translate(-372.6,0)">EA+</text>
<text class="t" x="416.7" y="513" textLength="227.5" lengthAdjust="spacingAndGlyphs">:Motor encoder A phase signal+</text>
<text class="t" x="372.6" y="527.3" transform="translate(372.6,0) scale(1.1,1) translate(-372.6,0)">EA-</text>
<text class="t" x="416.7" y="527.3" textLength="223.9" lengthAdjust="spacingAndGlyphs">:Motor encoder A phase signal-</text>
<text class="t" x="372.6" y="547.6" transform="translate(372.6,0) scale(1.1,1) translate(-372.6,0)">VCC</text>
<text class="t" x="430.9" y="547.6" textLength="170.3" lengthAdjust="spacingAndGlyphs">:Encoder power supply+</text>
<text class="t" x="372.6" y="563.2" transform="translate(372.6,0) scale(1.1,1) translate(-372.6,0)">EGND</text>
<text class="t" x="427.0" y="563.2" textLength="169.6" lengthAdjust="spacingAndGlyphs">:Encoder power supply-</text>
<text class="h" x="324.5" y="597.6" textLength="111" lengthAdjust="spacingAndGlyphs">HIGH VOLAGE</text>
<rect x="323" y="604.5" width="332" height="117.29999999999995" fill="none" stroke="#707070" stroke-width="1.1"/>
<line x1="358.3" y1="604.5" x2="358.3" y2="721.8" stroke="#707070" stroke-width="1.1"/>
<g stroke="#505050" stroke-width="1.15" fill="none"><circle cx="341.6" cy="620" r="5.7"/><line x1="337.40000000000003" y1="620.2" x2="343.1" y2="615.1"/><line x1="339.20000000000005" y1="625.1" x2="347.0" y2="618.1"/></g>
<g stroke="#505050" stroke-width="1.15" fill="none"><circle cx="341.6" cy="635.5" r="5.7"/><line x1="337.40000000000003" y1="635.7" x2="343.1" y2="630.6"/><line x1="339.20000000000005" y1="640.6" x2="347.0" y2="633.6"/></g>
<g stroke="#505050" stroke-width="1.15" fill="none"><circle cx="341.6" cy="656.4" r="5.7"/><line x1="337.40000000000003" y1="656.6" x2="343.1" y2="651.5"/><line x1="339.20000000000005" y1="661.5" x2="347.0" y2="654.5"/></g>
<g stroke="#505050" stroke-width="1.15" fill="none"><circle cx="341.6" cy="672.4" r="5.7"/><line x1="337.40000000000003" y1="672.6" x2="343.1" y2="667.5"/><line x1="339.20000000000005" y1="677.5" x2="347.0" y2="670.5"/></g>
<g stroke="#505050" stroke-width="1.15" fill="none"><circle cx="341.6" cy="691.3" r="5.7"/><line x1="337.40000000000003" y1="691.5" x2="343.1" y2="686.4"/><line x1="339.20000000000005" y1="696.4" x2="347.0" y2="689.4"/></g>
<g stroke="#505050" stroke-width="1.15" fill="none"><circle cx="341.6" cy="707.3" r="5.7"/><line x1="337.40000000000003" y1="707.5" x2="343.1" y2="702.4"/><line x1="339.20000000000005" y1="712.4" x2="347.0" y2="705.4"/></g>
<text class="t" x="373.2" y="627" transform="translate(373.2,0) scale(1.1,1) translate(-373.2,0)">A+</text>
<text class="t" x="402.8" y="627" textLength="176.8" lengthAdjust="spacingAndGlyphs">:A phase motor winding+</text>
<text class="t" x="373.2" y="641" transform="translate(373.2,0) scale(1.1,1) translate(-373.2,0)">A-</text>
<text class="t" x="402.8" y="641" textLength="173.4" lengthAdjust="spacingAndGlyphs">:A phase motor winding-</text>
<text class="t" x="372.8" y="663.3" transform="translate(372.8,0) scale(1.1,1) translate(-372.8,0)">B+</text>
<text class="t" x="401.6" y="663.3" textLength="178.0" lengthAdjust="spacingAndGlyphs">:B phase motor winding+</text>
<text class="t" x="372.8" y="678" transform="translate(372.8,0) scale(1.1,1) translate(-372.8,0)">B-</text>
<text class="t" x="401.6" y="678" textLength="174.6" lengthAdjust="spacingAndGlyphs">:B phase motor winding-</text>
<text class="t" x="373.2" y="698.6" transform="translate(373.2,0) scale(1.1,1) translate(-373.2,0)">AC</text>
<text class="t" x="404.8" y="698.6" textLength="96.4" lengthAdjust="spacingAndGlyphs">:power input+</text>
<text class="t" x="373.2" y="712.8" transform="translate(373.2,0) scale(1.1,1) translate(-373.2,0)">AC</text>
<text class="t" x="404.8" y="712.8" textLength="93.2" lengthAdjust="spacingAndGlyphs">:power input-</text>
</g>
</svg></body></html>
